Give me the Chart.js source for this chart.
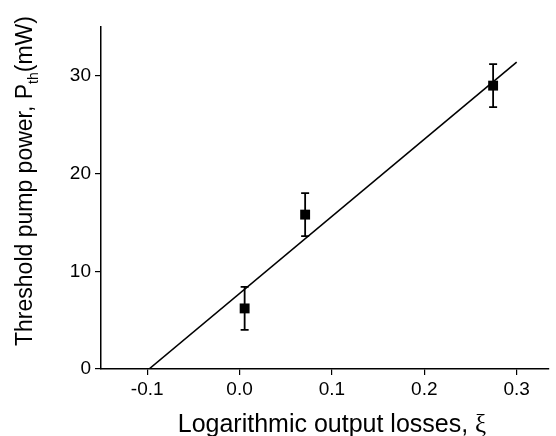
<!DOCTYPE html>
<html>
<head>
<meta charset="utf-8">
<script src="https://cdn.jsdelivr.net/npm/chart.js@4/dist/chart.umd.min.js"></script>
<style>
  html, body { margin: 0; padding: 0; background: #fff; }
</style>
</head>
<body>
<canvas id="chart" width="556" height="436"></canvas>
<script>
// measured points (logarithmic losses vs threshold power)
const lossX = [0.0055, 0.071, 0.2745];
const powerY = [6.2, 15.8, 29.0];
const powerErr = [2.2, 2.2, 2.2];

// linear fit endpoints
const fitX = [-0.098, 0.3];
const fitY = [0, 31.4];

const xTicks = [-0.1, 0.0, 0.1, 0.2, 0.3];
const yTicks = [0, 10, 20, 30];

const sans = "'Liberation Sans', Arial, Helvetica, sans-serif";
const serif = "'Liberation Serif', 'Times New Roman', serif";

// vertical error bars with caps
const errorBars = {
  id: 'errorBars',
  afterDatasetsDraw(chart) {
    const { ctx, scales: { x, y } } = chart;
    ctx.save();
    ctx.strokeStyle = '#000';
    ctx.lineWidth = 1.8;
    lossX.forEach((v, i) => {
      const px = x.getPixelForValue(v);
      const top = y.getPixelForValue(powerY[i] + powerErr[i]);
      const bot = y.getPixelForValue(powerY[i] - powerErr[i]);
      ctx.beginPath();
      ctx.moveTo(px, top); ctx.lineTo(px, bot);
      ctx.moveTo(px - 4, top); ctx.lineTo(px + 4, top);
      ctx.moveTo(px - 4, bot); ctx.lineTo(px + 4, bot);
      ctx.stroke();
    });
    ctx.restore();
  }
};

// axis titles (mixed fonts and a subscript)
const axisTitles = {
  id: 'axisTitles',
  afterDraw(chart) {
    const { ctx, chartArea } = chart;
    ctx.save();
    ctx.fillStyle = '#000';
    ctx.textBaseline = 'alphabetic';
    ctx.textAlign = 'left';

    // x title
    const xMain = 'Logarithmic output losses, ';
    ctx.font = '25px ' + sans;
    const w1 = ctx.measureText(xMain).width;
    ctx.font = '25px ' + serif;
    const w2 = ctx.measureText('ξ').width;
    let sx = 332 - (w1 + w2) / 2;
    const by = chartArea.bottom + 63;
    ctx.font = '25px ' + sans;
    ctx.fillText(xMain, sx, by);
    ctx.font = '25px ' + serif;
    ctx.fillText('ξ', sx + w1, by);

    // y title, rotated
    const a = 'Threshold pump power, P';
    const sub = 'th';
    const b = '(mW)';
    ctx.font = '23px ' + sans;
    const wa = ctx.measureText(a).width;
    const wb = ctx.measureText(b).width;
    ctx.font = '14px ' + sans;
    const ws = ctx.measureText(sub).width;
    const total = wa + ws + wb;
    ctx.translate(32, 181);
    ctx.rotate(-Math.PI / 2);
    let tx = -total / 2;
    ctx.font = '23px ' + sans;
    ctx.fillText(a, tx, 0);
    ctx.font = '14px ' + sans;
    ctx.fillText(sub, tx + wa, 6);
    ctx.font = '23px ' + sans;
    ctx.fillText(b, tx + wa + ws, 0);
    ctx.restore();
  }
};

new Chart(document.getElementById('chart'), {
  type: 'scatter',
  data: {
    datasets: [
      {
        data: lossX.map((v, i) => ({ x: v, y: powerY[i] })),
        pointStyle: 'rect',
        pointRadius: 7,
        pointHoverRadius: 7,
        backgroundColor: '#000',
        borderColor: '#000',
        borderWidth: 0,
        showLine: false,
      },
      {
        data: fitX.map((v, i) => ({ x: v, y: fitY[i] })),
        showLine: true,
        pointRadius: 0,
        borderColor: '#000',
        borderWidth: 1.6,
        fill: false,
      },
    ]
  },
  options: {
    responsive: false,
    devicePixelRatio: 1,
    animation: false,
    layout: { padding: { top: 27, right: 6, left: 0, bottom: 0 } },
    plugins: {
      legend: { display: false },
      title: { display: false },
      tooltip: { enabled: false },
    },
    scales: {
      x: {
        type: 'linear',
        min: -0.15,
        max: 0.335,
        afterFit: (s) => { s.height = 67; },
        afterBuildTicks: (s) => { s.ticks = xTicks.map(v => ({ value: v })); },
        ticks: {
          color: '#000',
          padding: 3,
          font: { family: sans, size: 19 },
          callback: (v) => (Math.abs(v) < 1e-9 ? '0.0' : v.toFixed(1)),
        },
        grid: { drawOnChartArea: false, drawTicks: true, tickLength: 6, color: '#000', lineWidth: 1.2 },
        border: { display: true, color: '#000', width: 1.5 },
      },
      y: {
        min: 0,
        max: 35,
        afterFit: (s) => { s.width = 101; },
        afterBuildTicks: (s) => { s.ticks = yTicks.map(v => ({ value: v })); },
        ticks: {
          color: '#000',
          padding: 4,
          font: { family: sans, size: 19 },
        },
        grid: { drawOnChartArea: false, drawTicks: true, tickLength: 6, color: '#000', lineWidth: 1.2 },
        border: { display: true, color: '#000', width: 1.5 },
      },
    },
  },
  plugins: [errorBars, axisTitles],
});
</script>
</body>
</html>
